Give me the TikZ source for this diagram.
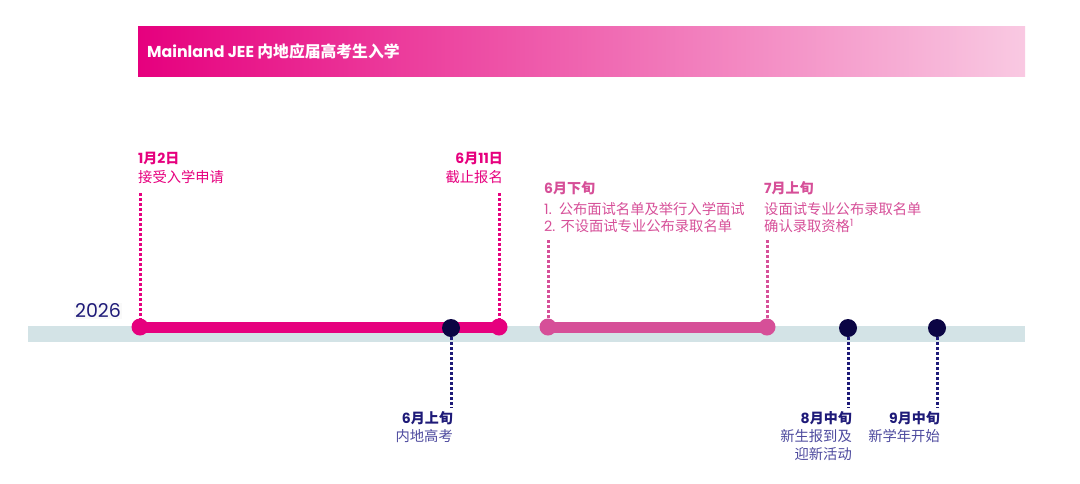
\documentclass[tikz,border=0pt]{standalone}
\usepackage{fontspec}
\setmainfont{Poppins}
\newfontfamily\cjk{Noto Sans CJK SC}
\newcommand\zh[1]{{\cjk #1}}
\definecolor{hotpink}{HTML}{E6007E}
\definecolor{lightpinkend}{HTML}{F9C9E2}
\definecolor{midpink}{HTML}{D64F98}
\definecolor{navydot}{HTML}{0B0544}
\definecolor{navytxt}{HTML}{1E1A78}
\definecolor{navylight}{HTML}{4D4A9E}
\definecolor{barcol}{HTML}{D3E3E6}
\begin{document}
\begin{tikzpicture}[x=1pt,y=-1pt,
  dot/.style={circle,inner sep=0pt,minimum size=#1},
  pinkdot/.style={dot=17pt,fill=hotpink},
  middot/.style={dot=17pt,fill=midpink},
  navycirc/.style={dot=18pt,fill=navydot},
  seg/.style={line width=11pt,line cap=round},
  dots/.style={line width=3pt,dash pattern=on 2.6pt off 2.4pt},
  ttl/.style={inner sep=0pt,font=\fontsize{14}{16}\selectfont\bfseries},
  body/.style={inner sep=0pt,font=\fontsize{14.3}{17.5}\selectfont}
]
\useasboundingbox (0,0) rectangle (1080,483);
% header
\node[anchor=north west,inner sep=0pt,minimum width=887pt,minimum height=50pt,
      left color=hotpink,right color=lightpinkend] (hdr) at (138,26) {};
\node[anchor=west,inner sep=0pt,text=white,font=\fontsize{15.8}{18}\selectfont\bfseries]
  (htxt) at (147,51) {Mainland JEE \zh{内地应届高考生入学}};
% year
\node[inner sep=1pt,fill=gray!5,text=navytxt,font=\fontsize{19}{20}\selectfont]
  (year) at (98,311) {2026};
% bar
\node[anchor=west,inner sep=0pt,minimum width=997pt,minimum height=16pt,fill=barcol]
  (bar) at (28,334) {};
% circles
\coordinate (p1) at (140,327);
\coordinate (p2) at (499,327);
\coordinate (m1) at (548,327);
\coordinate (m2) at (767,327);
\draw[seg,hotpink] (p1) -- (p2);
\draw[seg,midpink] (m1) -- (m2);
\node[pinkdot] (c1) at (p1) {};
\node[pinkdot] (c2) at (p2) {};
\node[middot] (c3) at (m1) {};
\node[middot] (c4) at (m2) {};
\node[navycirc] (n1) at (451,328) {};
\node[navycirc] (n2) at (848,328) {};
\node[navycirc] (n3) at (937,328) {};
% dotted connectors above
\coordinate (t1) at (140,193);
\coordinate (t2) at (499,193);
\coordinate (t3) at (548,240);
\coordinate (t4) at (767,240);
\draw[dots,hotpink] (t1) -- (c1.north);
\draw[dots,hotpink] (t2) -- (c2.north);
\draw[dots,midpink] (t3) -- (c3.north);
\draw[dots,midpink] (t4) -- (c4.north);
% dotted connectors below
\coordinate (b1) at (451,408);
\coordinate (b2) at (848,408);
\coordinate (b3) at (937,408);
\draw[dots,navytxt] (n1.south) -- (b1);
\draw[dots,navytxt] (n2.south) -- (b2);
\draw[dots,navytxt] (n3.south) -- (b3);
% labels above
\node[ttl,text=hotpink,anchor=west] (l1t) at (138,158) {1\zh{月}2\zh{日}};
\node[body,text=hotpink,anchor=west] (l1b) at (138,177) {\zh{接受入学申请}};
\node[ttl,text=hotpink,anchor=east] (l2t) at (503,158) {6\zh{月}11\zh{日}};
\node[body,text=hotpink,anchor=east] (l2b) at (503,177) {\zh{截止报名}};
\node[ttl,text=midpink,anchor=west] (l3t) at (544,188) {6\zh{月下旬}};
\node[body,text=midpink,anchor=west] (l3a) at (544,209) {1.\hspace{7pt}\zh{公布面试名单及举行入学面试}};
\node[body,text=midpink,anchor=west] (l3b) at (544,226) {2. \zh{不设面试专业公布录取名单}};
\node[ttl,text=midpink,anchor=west] (l4t) at (764,188) {7\zh{月上旬}};
\node[body,text=midpink,anchor=west] (l4a) at (764,209) {\zh{设面试专业公布录取名单}};
\node[body,text=midpink,anchor=west] (l4b) at (764,226) {\zh{确认录取资格}\textsuperscript{1}};
% labels below
\node[ttl,text=navytxt,anchor=east] (l5t) at (453,418) {6\zh{月上旬}};
\node[body,text=navylight,anchor=east] (l5b) at (453,436) {\zh{内地高考}};
\node[ttl,text=navytxt,anchor=east] (l6t) at (852,418) {8\zh{月中旬}};
\node[body,text=navylight,anchor=east] (l6b) at (852,436) {\zh{新生报到及}};
\node[body,text=navylight,anchor=east] (l6c) at (852,454) {\zh{迎新活动}};
\node[ttl,text=navytxt,anchor=east] (l7t) at (940,418) {9\zh{月中旬}};
\node[body,text=navylight,anchor=east] (l7b) at (940,436) {\zh{新学年开始}};
\end{tikzpicture}
\end{document}
